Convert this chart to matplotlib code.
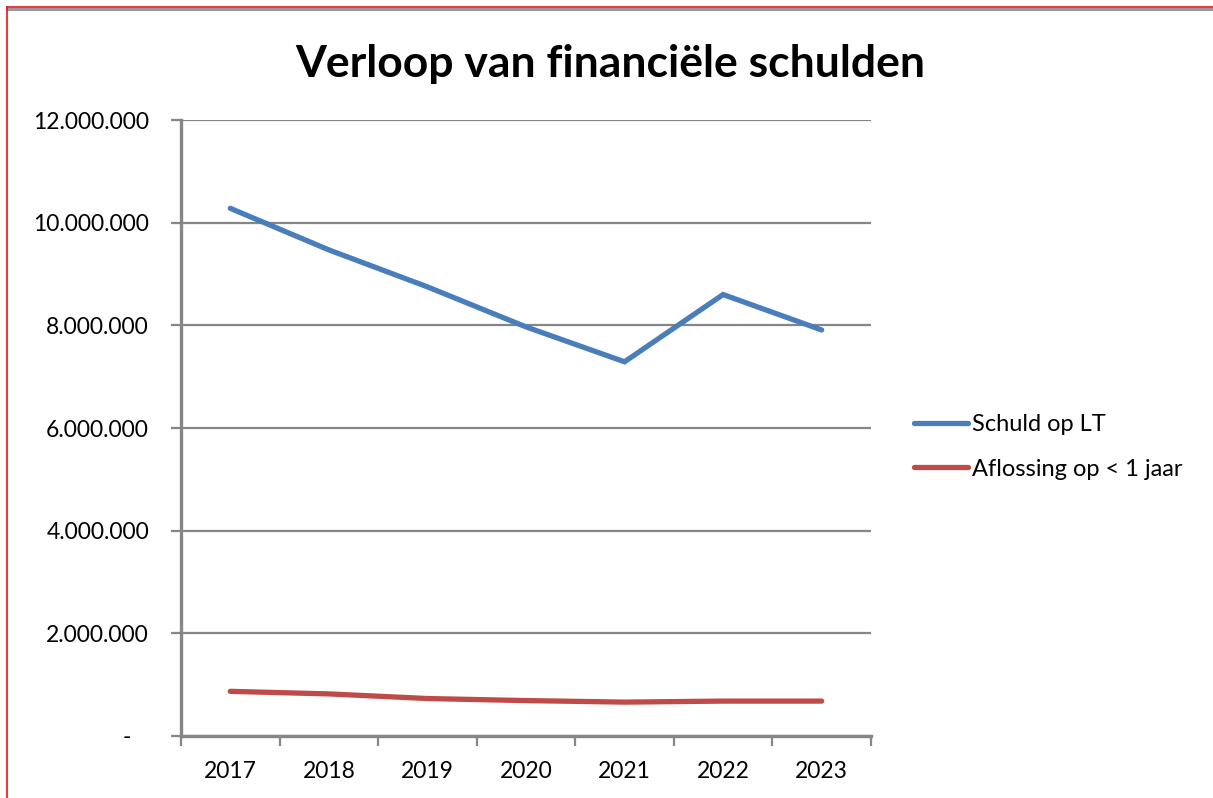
import matplotlib.pyplot as plt
from matplotlib.lines import Line2D
from matplotlib.ticker import FuncFormatter
import numpy as np

plt.rcParams['font.family'] = ['Lato', 'DejaVu Sans']

years = ['2017', '2018', '2019', '2020', '2021', '2022', '2023']
schuld_lt = [10280000, 9470000, 8750000, 7970000, 7290000, 8600000, 7910000]
aflossing = [870000, 820000, 730000, 690000, 660000, 680000, 680000]
y_ticks = [0, 2000000, 4000000, 6000000, 8000000, 10000000, 12000000]


def fmt(v, pos):
    if v == 0:
        return '-   '   # accounting style dash, set in a little
    return f'{int(v):,}'.replace(',', '.')


def main():
    fig = plt.figure(figsize=(12.13, 7.98), dpi=100)
    ax = fig.add_axes([0.1492, 0.0777, 0.5688, 0.7719])

    x = np.arange(len(years))
    ax.plot(x, schuld_lt, color='#4A7EBB', linewidth=3.8, solid_capstyle='round',
            solid_joinstyle='miter', label='Schuld op LT')
    ax.plot(x, aflossing, color='#BE4B48', linewidth=3.8, solid_capstyle='round',
            label='Aflossing op < 1 jaar')

    ax.set_xlim(-0.5, len(years) - 0.5)
    ax.set_ylim(0, 12000000)
    ax.set_yticks(y_ticks)
    ax.yaxis.set_major_formatter(FuncFormatter(fmt))
    ax.yaxis.grid(True, color='#868686', linewidth=1.6)
    ax.set_axisbelow(True)

    # category labels in the middle, ticks on the boundaries
    ax.set_xticks(x)
    ax.set_xticklabels(years)
    ax.set_xticks(np.arange(-0.5, len(years), 1), minor=True)
    ax.tick_params(axis='x', which='major', length=0, pad=18, labelsize=16.5)
    ax.tick_params(axis='x', which='minor', length=7, width=1.6, color='#868686')
    ax.tick_params(axis='y', length=7, width=1.6, color='#868686', pad=16, labelsize=16.5)

    for s in ['top', 'right']:
        ax.spines[s].set_visible(False)
    for s in ['left', 'bottom']:
        ax.spines[s].set_color('#868686')
        ax.spines[s].set_linewidth(2.4)

    fig.text(0.503, 0.92, 'Verloop van financiële schulden', ha='center', va='center',
             fontsize=32, fontweight='bold')

    fig.legend(loc='center left', bbox_to_anchor=(0.736, 0.44), frameon=False,
               fontsize=17, handlelength=2.3, handletextpad=0.15, labelspacing=1.0)

    # outer frame: red at left and top, gray under the top line
    fig.add_artist(Line2D([0.006, 1.0], [0.9885, 0.9885], color='#999999', linewidth=2.2))
    fig.add_artist(Line2D([0.006, 1.0], [0.991, 0.991], color='#E8141B', linewidth=1.2))
    fig.add_artist(Line2D([0.006, 0.006], [0.0, 0.991], color='#E8141B', linewidth=1.2))

    fig.savefig('out.png', dpi=100)


if __name__ == "__main__":
    main()
